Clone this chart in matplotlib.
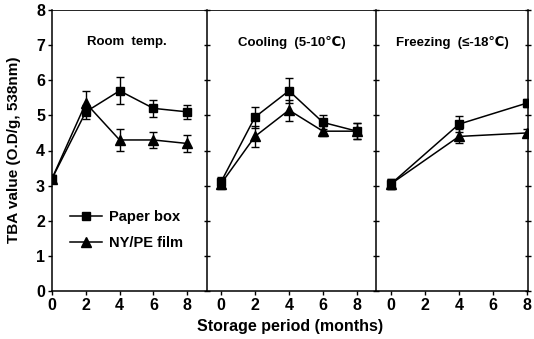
import matplotlib
matplotlib.use('Agg')
import matplotlib.pyplot as plt
from matplotlib.lines import Line2D

# data
room_x = [0, 2, 4, 6, 8]
room_paper = [3.2, 5.1, 5.7, 5.2, 5.1]
room_paper_err = [0.1, 0.2, 0.38, 0.25, 0.2]
room_film = [3.2, 5.35, 4.3, 4.3, 4.2]
room_film_err = [0.1, 0.35, 0.3, 0.22, 0.25]

cool_x = [0, 2, 4, 6, 8]
cool_paper = [3.1, 4.95, 5.7, 4.8, 4.55]
cool_paper_err = [0.15, 0.3, 0.35, 0.2, 0.22]
cool_film = [3.05, 4.4, 5.15, 4.55, 4.55]
cool_film_err = [0.15, 0.3, 0.3, 0.15, 0.22]

freeze_x = [0, 4, 8]
freeze_paper = [3.05, 4.75, 5.35]
freeze_paper_err = [0.15, 0.22, 0.12]
freeze_film = [3.05, 4.4, 4.5]
freeze_film_err = [0.15, 0.2, 0.12]

titles = ["Room  temp.", "Cooling  (5-10\u2103)", "Freezing  (\u2264-18\u2103)"]
panels = [
    (room_x, room_paper, room_paper_err, room_film, room_film_err),
    (cool_x, cool_paper, cool_paper_err, cool_film, cool_film_err),
    (freeze_x, freeze_paper, freeze_paper_err, freeze_film, freeze_film_err),
]

plt.rcParams['font.family'] = ['Liberation Sans', 'DejaVu Sans']
plt.rcParams['font.weight'] = 'bold'

W, H = 534, 339
fig = plt.figure(figsize=(W / 100, H / 100), dpi=100)

# panel boxes in pixels: (left, right, xlim)
boxes = [(52, 207, (0, 9.17)), (207, 376, (-0.82, 9.12)), (376, 528, (-0.88, 8.06))]
top, bot = 10, 291

axes = []
for i, (l, r, xl) in enumerate(boxes):
    ax = fig.add_axes([l / W, 1 - bot / H, (r - l) / W, (bot - top) / H])
    axes.append(ax)
    x, p, pe, f, fe = panels[i]
    ax.errorbar(x, p, yerr=pe, color='black', marker='s', ms=6, lw=1.1,
                capsize=3, elinewidth=1, capthick=1)
    ax.errorbar(x, f, yerr=fe, color='black', marker='^', ms=6.5, lw=1.1,
                capsize=3, elinewidth=1, capthick=1)
    ax.set_xlim(*xl)
    ax.set_ylim(0, 8)
    ax.set_xticks([0, 2, 4, 6, 8])
    ax.set_yticks(range(9))
    ax.tick_params(axis='x', direction='out', length=3, width=1, labelsize=11.5, pad=2)
    for s in ax.spines.values():
        s.set_linewidth(1.1)
    ax.spines['top'].set_linewidth(0.6)
    ax.text(0.5 if i else 0.48, 0.885, titles[i], transform=ax.transAxes,
            ha='center', va='center', fontsize=9.5)
    if i == 0:
        ax.tick_params(axis='y', direction='out', length=3, width=1, labelsize=11.5, pad=2)
        ax.spines['right'].set_visible(False)
    else:
        ax.tick_params(axis='y', direction='inout', length=4, width=1,
                       labelleft=False, right=(i == 2))
        if i == 1:
            ax.spines['right'].set_visible(False)
    for lab in ax.get_xticklabels() + ax.get_yticklabels():
        lab.set_fontweight('bold')

handles = [
    Line2D([], [], color='black', marker='s', ms=6, lw=1.1),
    Line2D([], [], color='black', marker='^', ms=6.5, lw=1.1),
]
axes[0].legend(handles, ["Paper box", "NY/PE film"], loc='lower left',
               bbox_to_anchor=(0.03, 0.1), frameon=False, fontsize=10.5,
               handlelength=2.2, handletextpad=0.5, labelspacing=0.8)

fig.text(14 / W, 1 - 150 / H, "TBA value (O.D/g, 538nm)", rotation=90,
         ha='center', va='center', fontsize=11)
fig.text(290 / W, 1 - 326 / H, "Storage period (months)", ha='center',
         va='center', fontsize=11.5)

fig.savefig('out.png', dpi=100)
